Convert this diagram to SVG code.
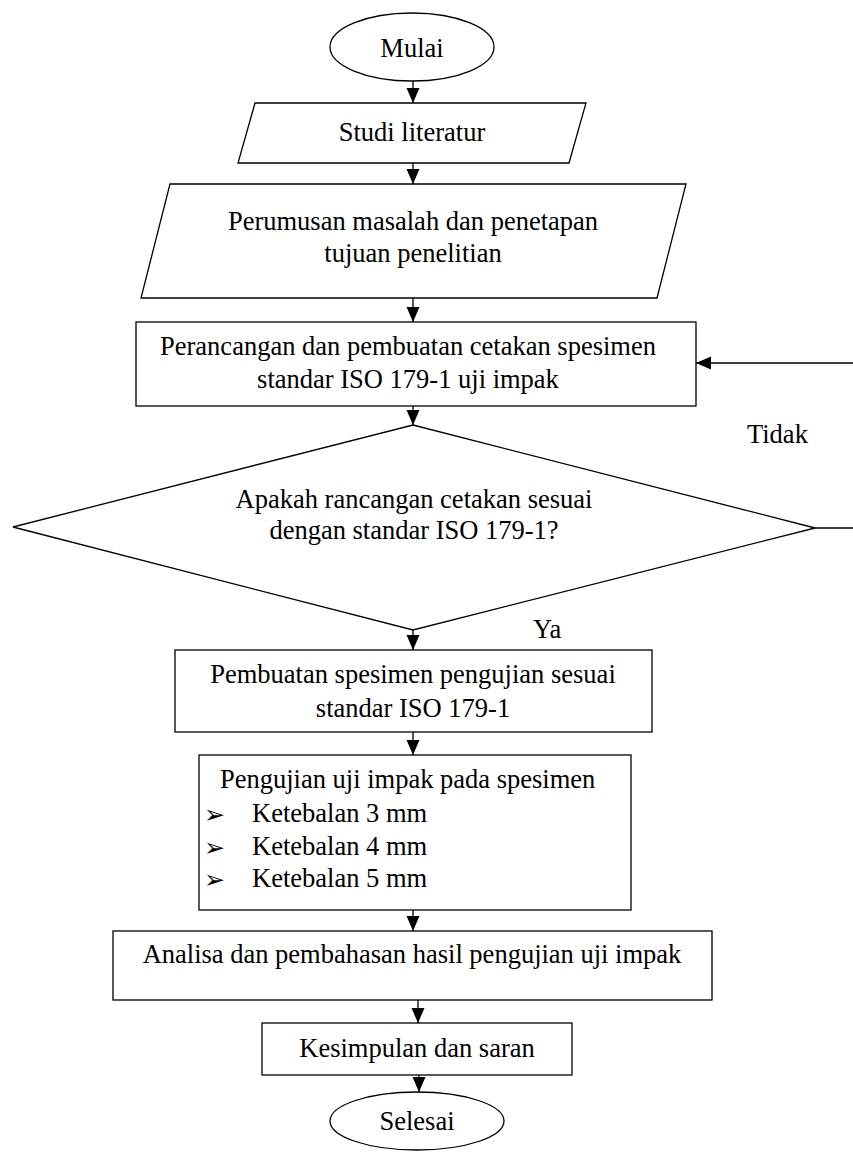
<svg xmlns="http://www.w3.org/2000/svg" width="853" height="1152" viewBox="0 0 853 1152">
<style>
.s{fill:#fff;stroke:#000;stroke-width:1.3}
.t{font-family:"Liberation Serif","Times New Roman",serif;font-size:26.5px;fill:#000}
.c{text-anchor:middle}
.b{font-family:"DejaVu Sans",sans-serif;font-size:25px;fill:#000}
.e{fill:none;stroke:#000;stroke-width:1.3}
</style>
<defs>
<marker id="ah" markerUnits="userSpaceOnUse" markerWidth="16" markerHeight="14" refX="15" refY="6.5" orient="auto">
<path d="M0,0 L15,6.5 L0,13 z" fill="#000"/>
</marker>
</defs>
<rect width="853" height="1152" fill="#fff"/>
<g id="connectors">
<path class="e" d="M413,81 V103" marker-end="url(#ah)"/>
<path class="e" d="M413,163 V184" marker-end="url(#ah)"/>
<path class="e" d="M413,298 V322" marker-end="url(#ah)"/>
<path class="e" d="M413,406 V425" marker-end="url(#ah)"/>
<path class="e" d="M413,630 V650" marker-end="url(#ah)"/>
<path class="e" d="M413,732 V755" marker-end="url(#ah)"/>
<path class="e" d="M413,910 V931" marker-end="url(#ah)"/>
<path class="e" d="M418,1000 V1023" marker-end="url(#ah)"/>
<path class="e" d="M419,1075 V1092" marker-end="url(#ah)"/>
<path class="e" d="M815,528 H880 V363 H696" marker-end="url(#ah)"/>
<text class="t" x="747" y="443">Tidak</text>
<text class="t" x="533" y="638">Ya</text>
</g>
<g id="mulai">
<ellipse class="s" cx="412" cy="47" rx="82" ry="34"/>
<text class="t c" x="412" y="57">Mulai</text>
</g>
<g id="studi">
<polygon class="s" points="255,103 586,103 569,163 238,163"/>
<text class="t c" x="412" y="141">Studi literatur</text>
</g>
<g id="perumusan">
<polygon class="s" points="170,184 686,184 657,298 141,298"/>
<text class="t c" x="413" y="230">Perumusan masalah dan penetapan</text>
<text class="t c" x="413" y="262">tujuan penelitian</text>
</g>
<g id="perancangan">
<rect class="s" x="136" y="322" width="560" height="84"/>
<text class="t c" x="408" y="355">Perancangan dan pembuatan cetakan spesimen</text>
<text class="t c" x="408" y="388">standar ISO 179-1 uji impak</text>
</g>
<g id="keputusan">
<polygon class="s" points="413,425 815,528 413,630 13,527"/>
<text class="t c" x="414" y="508">Apakah rancangan cetakan sesuai</text>
<text class="t c" x="414" y="539">dengan standar ISO 179-1?</text>
</g>
<g id="pembuatan">
<rect class="s" x="175" y="650" width="477" height="82"/>
<text class="t c" x="413" y="683">Pembuatan spesimen pengujian sesuai</text>
<text class="t c" x="413" y="717">standar ISO 179-1</text>
</g>
<g id="pengujian">
<rect class="s" x="199" y="755" width="432" height="155"/>
<text class="t" x="220" y="788">Pengujian uji impak pada spesimen</text>
<text class="b" x="204" y="823">➢</text>
<text class="t" x="252" y="822">Ketebalan 3 mm</text>
<text class="b" x="204" y="856">➢</text>
<text class="t" x="252" y="855">Ketebalan 4 mm</text>
<text class="b" x="204" y="888">➢</text>
<text class="t" x="252" y="887">Ketebalan 5 mm</text>
</g>
<g id="analisa">
<rect class="s" x="113" y="931" width="599" height="69"/>
<text class="t c" x="412" y="963">Analisa dan pembahasan hasil pengujian uji impak</text>
</g>
<g id="kesimpulan">
<rect class="s" x="262" y="1023" width="310" height="52"/>
<text class="t c" x="417" y="1057">Kesimpulan dan saran</text>
</g>
<g id="selesai">
<ellipse class="s" cx="417" cy="1121" rx="87" ry="29"/>
<text class="t c" x="417" y="1130">Selesai</text>
</g>
</svg>
